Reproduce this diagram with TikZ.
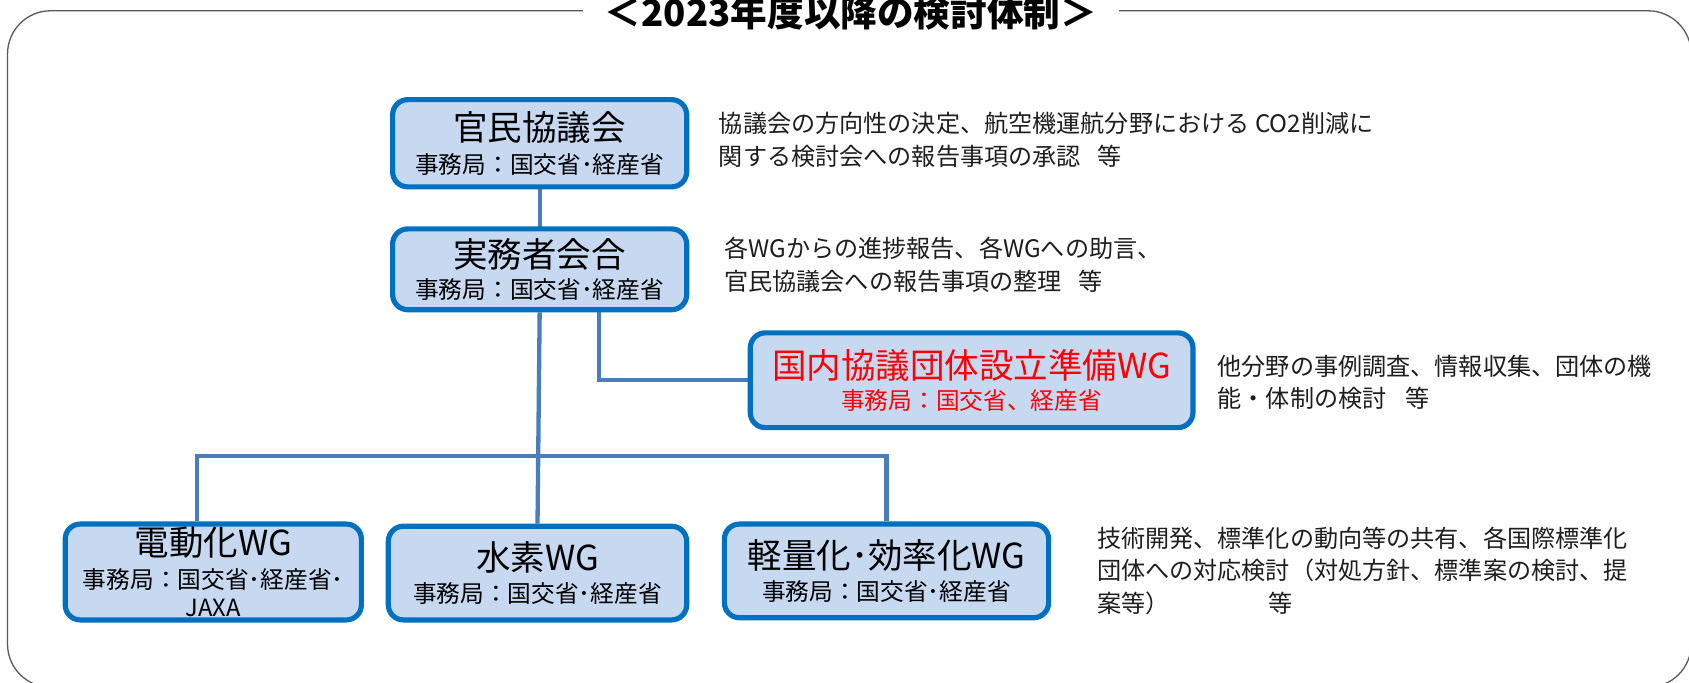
\documentclass[tikz,border=0pt]{standalone}
\usepackage{fontspec}
\setmainfont{Noto Sans CJK JP}
\usepackage{xcolor}
\usepackage{tikz}
\usetikzlibrary{
  arrows.meta,
  calc,
  positioning,
  backgrounds
}
\definecolor{boxblue}{RGB}{0,112,192}
\definecolor{boxfill}{RGB}{198,217,241}
\definecolor{linkblue}{RGB}{74,126,187}
\definecolor{framegray}{RGB}{89,89,89}
\definecolor{notegray}{RGB}{30,30,30}

\begin{document}
\begin{tikzpicture}[x=0.5pt, y=-0.5pt,
  orgbox/.style={draw=boxblue, fill=boxfill, line width=2.4pt, rounded corners=7pt, align=center, inner sep=0pt},
  link/.style={draw=linkblue, line width=2pt},
  note/.style={anchor=west, align=left, inner sep=0pt, text=notegray, font=\fontsize{11.2}{15}\selectfont},
]
  \useasboundingbox (0,0) rectangle (1568,634);
  % Frame
  \draw[framegray, line width=0.6pt, rounded corners=20pt] (7,10) rectangle (1570,638);
  \node[fill=white, inner xsep=10pt, inner ysep=2pt, font=\fontsize{17}{19}\selectfont\bfseries] (title) at (790,12) {＜2023年度以降の検討体制＞};
  % Boxes
  \node[orgbox, minimum width=136.5pt, minimum height=40.5pt] (kanmin) at (501,133)
    {{\fontsize{16}{19}\selectfont 官民協議会}\\[3.5pt]{\fontsize{11}{13}\selectfont 事務局：国交省･経産省}};
  \node[orgbox, minimum width=136.5pt, minimum height=37.5pt] (jitsumu) at (501,250)
    {{\fontsize{16}{19}\selectfont 実務者会合}\\[2.5pt]{\fontsize{11}{13}\selectfont 事務局：国交省･経産省}};
  \node[orgbox, minimum width=205.5pt, minimum height=44pt, text=red] (junbi) at (902,353)
    {{\fontsize{16}{19}\selectfont 国内協議団体設立準備WG}\\[2.5pt]{\fontsize{11}{13}\selectfont 事務局：国交省、経産省}};
  \node[orgbox, minimum width=137.5pt, minimum height=44.5pt] (denki) at (198,531)
    {{\fontsize{16}{19}\selectfont 電動化WG}\\[3.5pt]{\fontsize{11}{13}\selectfont 事務局：国交省･経産省･}\\[1pt]{\fontsize{11}{13}\selectfont JAXA}};
  \node[orgbox, minimum width=138.5pt, minimum height=43.5pt] (suiso) at (499,532)
    {{\fontsize{16}{19}\selectfont 水素WG}\\[2.5pt]{\fontsize{11}{13}\selectfont 事務局：国交省･経産省}};
  \node[orgbox, minimum width=150.5pt, minimum height=43.5pt] (keiryo) at (823,530)
    {{\fontsize{16}{19}\selectfont 軽量化･効率化WG}\\[2.5pt]{\fontsize{11}{13}\selectfont 事務局：国交省･経産省}};
  % Links
  \coordinate (bar) at (0,423);
  \begin{scope}[on background layer]
    \draw[link] (kanmin.south) -- (jitsumu.south);
    \draw[link] (jitsumu.south) -- (suiso.north);
    \draw[link] ([xshift=27.5pt]jitsumu.south) |- (junbi.west);
    \draw[link] ([xshift=-7.5pt]denki.north) -- ([xshift=-7.5pt]denki.north |- bar) -- (keiryo.north |- bar) -- (keiryo.north);
  \end{scope}
  % Notes
  \node[note] (n1) at (667,130) {協議会の方向性の決定、航空機運航分野における CO2削減に\\関する検討会への報告事項の承認\hspace{0.7em}等};
  \node[note] (n2) at (672,246) {各WGからの進捗報告、各WGへの助言、\\官民協議会への報告事項の整理\hspace{0.7em}等};
  \node[note] (n3) at (1130,355) {他分野の事例調査、情報収集、団体の機\\能・体制の検討\hspace{0.8em}等};
  \node[note] (n4) at (1018,530) {技術開発、標準化の動向等の共有、各国際標準化\\団体への対応検討（対処方針、標準案の検討、提\\案等）\hspace{4.1em}等};
\end{tikzpicture}
\end{document}
